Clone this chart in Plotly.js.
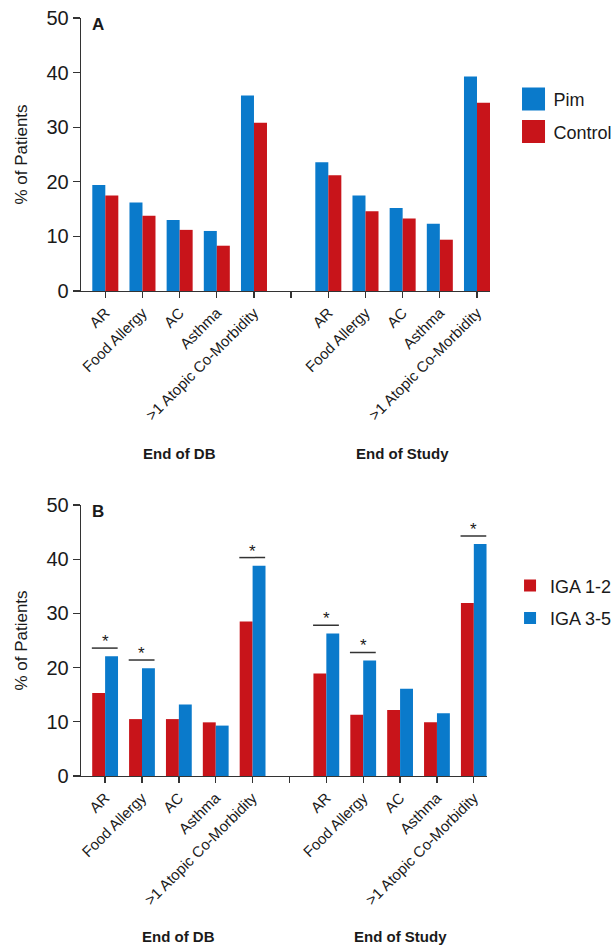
<!DOCTYPE html>
<html><head><meta charset="utf-8">
<script src="https://cdn.plot.ly/plotly-3.0.1.min.js"></script>
<style>html,body{margin:0;padding:0;background:#fff}#chart{width:615px;height:948px}</style>
</head><body><div id="chart"></div>
<script>
// ---- data ----
const categories = ['AR', 'Food Allergy', 'AC', 'Asthma', '>1 Atopic Co-Morbidity'];
const periods = ['End of DB', 'End of Study'];
// Panel A
const pimDB = [19.4, 16.2, 13.0, 11.0, 35.8];
const pimEOS = [23.6, 17.5, 15.2, 12.3, 39.3];
const controlDB = [17.5, 13.8, 11.2, 8.3, 30.8];
const controlEOS = [21.2, 14.6, 13.3, 9.4, 34.5];
// Panel B
const iga12DB = [15.3, 10.5, 10.5, 9.9, 28.5];
const iga12EOS = [18.9, 11.3, 12.2, 9.9, 31.9];
const iga35DB = [22.1, 19.9, 13.2, 9.3, 38.8];
const iga35EOS = [26.3, 21.3, 16.1, 11.6, 42.8];
const sigDB = [true, true, false, false, true];
const sigEOS = [true, true, false, false, true];
const yTicks = [0, 10, 20, 30, 40, 50];

// ---- build ----
const nCat = categories.length;
const xPos = periods.flatMap((p, pi) => categories.map((c, ci) => pi * (nCat + 1) + ci));
const tickvals = Array.from({length: periods.length * (nCat + 1) - 1}, (_, i) => i);
const ticktext = tickvals.map(i => (i % (nCat + 1) === nCat) ? '' : categories[i % (nCat + 1)]);
const groupCenters = periods.map((p, pi) => pi * (nCat + 1) + (nCat - 1) / 2);

const BLUE = '#0a7acb';
const RED = '#c8141a';
const TXT = '#1a1a1a';
const AX = '#333333';
const FONT = 'Liberation Sans, Arial, Helvetica, sans-serif';

function bar(name, vals, color, xa, ya, leg) {
  return {type: 'bar', name: name, x: xPos, y: vals, marker: {color: color, line: {width: 0}},
    xaxis: xa, yaxis: ya, legend: leg, legendgroup: name, hoverinfo: 'skip'};
}
const data = [
  bar('Pim', pimDB.concat(pimEOS), BLUE, 'x', 'y', 'legend'),
  bar('Control', controlDB.concat(controlEOS), RED, 'x', 'y', 'legend'),
  bar('IGA 1-2', iga12DB.concat(iga12EOS), RED, 'x2', 'y2', 'legend2'),
  bar('IGA 3-5', iga35DB.concat(iga35EOS), BLUE, 'x2', 'y2', 'legend2')
];

const shapes = [], annotations = [];
const sigAll = sigDB.concat(sigEOS);
const iga12All = iga12DB.concat(iga12EOS), iga35All = iga35DB.concat(iga35EOS);
sigAll.forEach((s, i) => {
  if (!s) return;
  const yv = Math.max(iga12All[i], iga35All[i]) + 1.5;
  shapes.push({type: 'line', xref: 'x2', yref: 'y2', x0: xPos[i] - 0.36, x1: xPos[i] + 0.34, y0: yv, y1: yv,
    line: {color: AX, width: 1.5}});
  annotations.push({xref: 'x2', yref: 'y2', x: xPos[i], y: yv, text: '*', showarrow: false,
    yanchor: 'bottom', yshift: -5, font: {family: FONT, size: 17, color: TXT}});
});
// group labels (paper y positions for panel A and B)
const groupLabelY = {x: 0.4261, x2: -0.2124};
periods.forEach((p, pi) => {
  ['x', 'x2'].forEach(xa => {
    annotations.push({xref: xa, yref: 'paper', x: groupCenters[pi], y: groupLabelY[xa],
      text: '<b>' + p + '</b>', showarrow: false, xanchor: 'center', yanchor: 'middle',
      font: {family: FONT, size: 15, color: TXT}});
  });
});
annotations.push({xref: 'x domain', yref: 'y domain', x: 0.022, y: 0.975, text: '<b>A</b>', showarrow: false,
  xanchor: 'left', yanchor: 'middle', font: {family: FONT, size: 17, color: TXT}});
annotations.push({xref: 'x2 domain', yref: 'y2 domain', x: 0.022, y: 0.975, text: '<b>B</b>', showarrow: false,
  xanchor: 'left', yanchor: 'middle', font: {family: FONT, size: 17, color: TXT}});

const xBase = {range: [-0.654, 10.35], tickvals: tickvals, ticktext: ticktext, tickangle: -45,
  ticks: 'outside', ticklen: 6, tickwidth: 1.3, tickcolor: AX, showline: true, linecolor: AX, linewidth: 1.3,
  showgrid: false, zeroline: false, fixedrange: true,
  tickfont: {family: FONT, size: 15, color: TXT}};
const yBase = {range: [0, 50], tickvals: yTicks, ticks: 'outside', ticklen: 7, tickwidth: 1.3, tickcolor: AX,
  showline: true, linecolor: AX, linewidth: 1.3, showgrid: false, zeroline: false, fixedrange: true,
  tickfont: {family: FONT, size: 20, color: TXT},
  title: {text: '% of Patients', font: {family: FONT, size: 17, color: TXT}, standoff: 14}};

const layout = {
  width: 615, height: 948,
  margin: {l: 81, r: 125, t: 18, b: 172, autoexpand: false},
  paper_bgcolor: '#fff', plot_bgcolor: '#fff',
  barmode: 'group', bargap: 0.3, bargroupgap: 0,
  xaxis: Object.assign({}, xBase, {anchor: 'y', domain: [0, 1]}),
  yaxis: Object.assign({}, yBase, {anchor: 'x', domain: [0.6398, 1]}),
  xaxis2: Object.assign({}, xBase, {anchor: 'y2', domain: [0, 0.992]}),
  yaxis2: Object.assign({}, yBase, {anchor: 'x2', domain: [0, 0.3575]}),
  legend: {x: 1.0575, y: 0.917, xanchor: 'left', yanchor: 'top', traceorder: 'grouped', tracegroupgap: 6,
    font: {family: FONT, size: 18, color: TXT}, bgcolor: 'rgba(0,0,0,0)'},
  legend2: {x: 1.049, y: 0.2752, xanchor: 'left', yanchor: 'top', traceorder: 'grouped', tracegroupgap: 6,
    font: {family: FONT, size: 18, color: TXT}, bgcolor: 'rgba(0,0,0,0)'},
  shapes: shapes, annotations: annotations, showlegend: true
};

Plotly.newPlot('chart', data, layout, {staticPlot: true}).then(() => {
  document.querySelectorAll('.legend .legendpoints path').forEach(p => {
    p.setAttribute('d', 'M11.5,11.5H-11.5V-11.5H11.5Z');
  });
});
</script>
</body></html>
